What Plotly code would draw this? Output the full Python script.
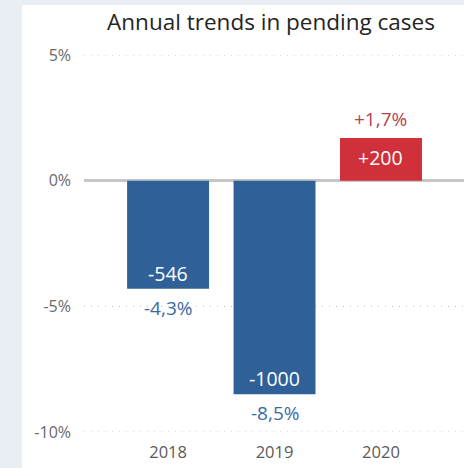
import plotly.graph_objects as go

years = ["2018", "2019", "2020"]
pct_change = [-4.3, -8.5, 1.7]
abs_change = [-546, -1000, 200]
pct_labels = ["-4,3%", "-8,5%", "+1,7%"]
abs_labels = ["-546", "-1000", "+200"]
tick_vals = [5, 0, -5, -10]
tick_text = ["5%", "0%", "-5%", "-10%"]

BLUE = "#2f6198"
RED = "#d0303a"
bar_colors = [BLUE if v < 0 else RED for v in pct_change]
pct_colors = ["#3b6aa3" if v < 0 else "#b4424f" for v in pct_change]

fig = go.Figure()
fig.add_trace(go.Bar(x=years, y=pct_change, marker=dict(color=bar_colors, line=dict(width=0)),
                     width=0.77, hoverinfo="skip"))

annotations = []
for i, (v, pl, al, pc) in enumerate(zip(pct_change, pct_labels, abs_labels, pct_colors)):
    neg = v < 0
    if neg:
        annotations.append(dict(x=i, y=v, text=al, showarrow=False, yanchor="bottom", yshift=0,
                                font=dict(size=19.5, color="white", family="Open Sans")))
    else:
        annotations.append(dict(x=i, y=v / 2, text=al, showarrow=False, yanchor="middle", yshift=2,
                                font=dict(size=19.5, color="white", family="Open Sans")))
    annotations.append(dict(x=i, y=v, text=pl, showarrow=False,
                            yanchor="top" if neg else "bottom", yshift=-4 if neg else 4,
                            font=dict(size=19, color=pc, family="Open Sans")))

grid_shapes = [dict(type="line", xref="paper", yref="y", x0=0, x1=1, y0=tv, y1=tv, layer="below",
                    line=dict(color="#b8b8b8", width=1, dash="1px,6px"))
               for tv in tick_vals if tv != 0]

fig.update_layout(
    width=464, height=468,
    margin=dict(l=84, r=0, t=55, b=36),
    paper_bgcolor="#e9eef5",
    plot_bgcolor="white",
    showlegend=False,
    title=dict(text="Annual trends in pending cases", x=271 / 464, xanchor="center",
               y=1 - 22 / 468, yanchor="middle",
               font=dict(family="Open Sans", size=22.5, color="#252423")),
    annotations=annotations,
    shapes=[dict(type="rect", xref="paper", yref="paper", layer="below",
                 x0=-62 / 380, x1=1, y0=-36 / 377, y1=(377 + 50) / 377,
                 fillcolor="white", line=dict(width=0))] + grid_shapes,
    xaxis=dict(type="category", range=[-0.79, 2.78], showgrid=False, zeroline=False, showline=False,
               ticks="", ticklabelstandoff=8,
               tickfont=dict(size=16.5, color="#5a5a5a", family="Open Sans")),
    yaxis=dict(range=[-10, 5], tickvals=tick_vals, ticktext=tick_text,
               showgrid=False,
               zeroline=True, zerolinecolor="#c6c6c6", zerolinewidth=3,
               layer="above traces",
               ticks="", ticklabelstandoff=12,
               tickfont=dict(size=16, color="#6a6a6a", family="Open Sans")),
)

fig.write_html("out.html")
